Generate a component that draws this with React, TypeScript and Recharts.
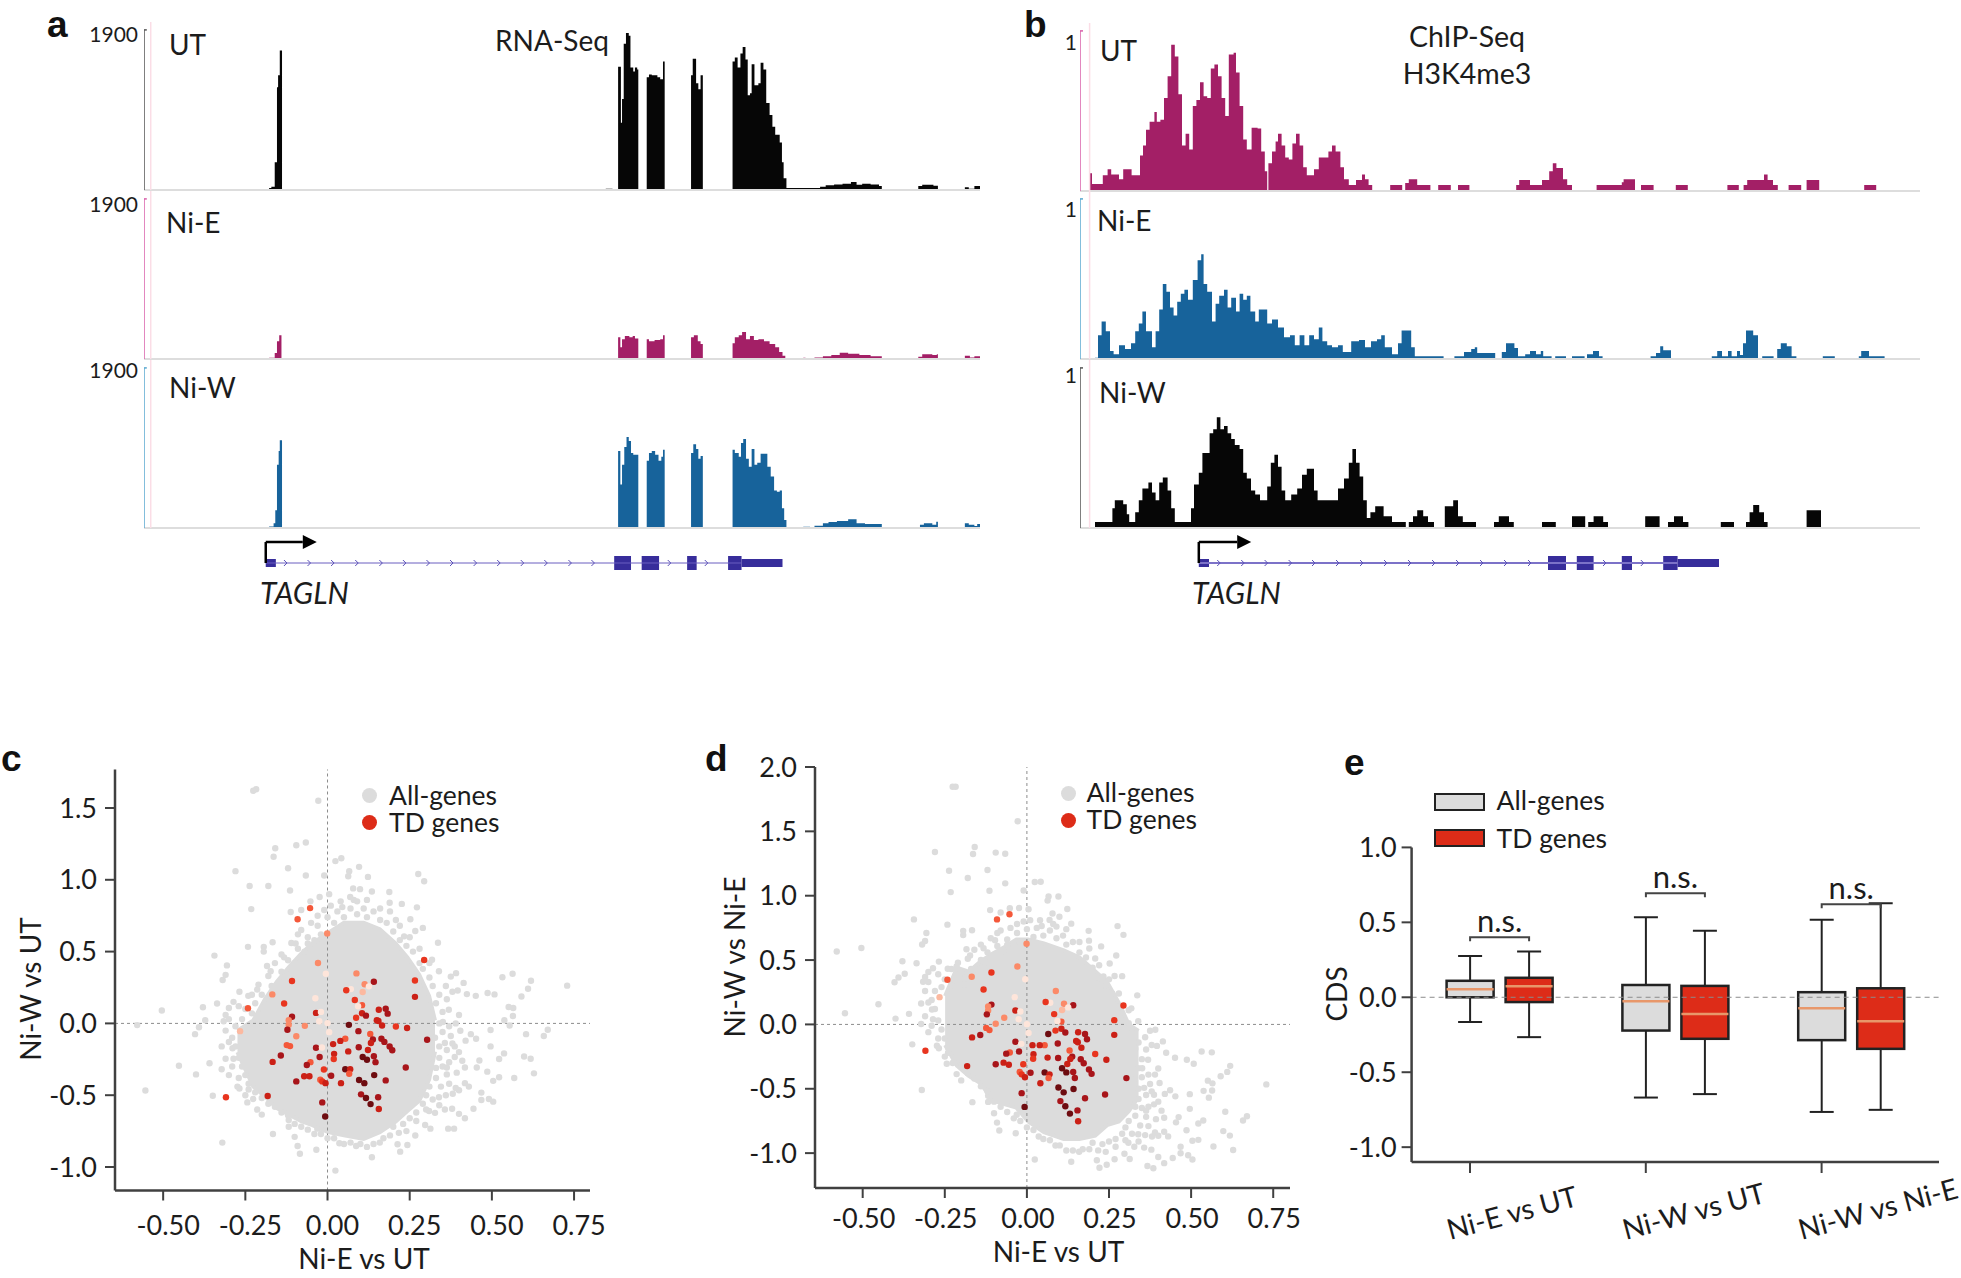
import React from "react";
import {
  AreaChart, Area, ComposedChart, ScatterChart, Scatter, Bar, XAxis, YAxis,
  ReferenceLine, ReferenceArea,
} from "recharts";

type P = [number, number];

// panel a: RNA-Seq signal, [genome bin, height]
const rnaUT: P[] = [[248,5],[252,8],[258,70],[262,260],[264,290],[267,353],[271,0],[848,3],[860,0],[870,312],[875,170],[877,230],[880,370],[884,397],[889,390],[892,310],[897,300],[900,310],[904,305],[906,0],[921,285],[925,292],[930,290],[940,285],[945,280],[950,325],[953,0],[1000,290],[1003,332],[1009,270],[1013,255],[1017,290],[1021,0],[1074,325],[1078,335],[1083,310],[1088,345],[1092,362],[1097,330],[1101,240],[1105,245],[1108,318],[1113,265],[1120,270],[1124,322],[1129,305],[1134,220],[1140,190],[1145,160],[1150,140],[1158,120],[1162,70],[1165,30],[1170,5],[1230,8],[1240,12],[1255,14],[1270,16],[1285,20],[1295,13],[1305,16],[1320,14],[1335,10],[1340,0],[1405,10],[1412,13],[1432,11],[1440,0],[1488,7],[1495,3],[1505,10],[1515,0]];
const rnaNiE: P[] = [[248,3],[258,15],[262,45],[266,60],[270,0],[870,55],[874,30],[877,50],[882,58],[890,55],[896,58],[900,52],[906,0],[921,50],[925,45],[935,48],[945,50],[950,60],[953,0],[1000,55],[1005,60],[1012,45],[1017,38],[1021,0],[1074,40],[1078,55],[1085,60],[1091,68],[1098,50],[1105,58],[1112,48],[1120,50],[1130,45],[1140,38],[1150,30],[1157,18],[1163,8],[1168,0],[1200,3],[1204,0],[1220,4],[1235,7],[1250,10],[1265,16],[1280,13],[1300,10],[1320,7],[1340,0],[1405,6],[1412,12],[1430,10],[1438,12],[1440,0],[1488,8],[1497,4],[1505,7],[1515,0]];
const rnaNiW: P[] = [[248,4],[256,12],[259,45],[262,160],[265,195],[267,222],[271,0],[870,195],[874,110],[877,160],[881,205],[885,230],[889,220],[893,190],[897,185],[903,185],[906,0],[921,170],[925,190],[930,195],[936,185],[942,170],[947,180],[950,198],[953,0],[1000,190],[1004,212],[1009,200],[1013,175],[1017,182],[1021,0],[1074,198],[1078,190],[1085,180],[1089,215],[1093,225],[1098,175],[1103,155],[1108,200],[1113,160],[1118,165],[1124,188],[1130,188],[1136,155],[1142,130],[1148,95],[1153,92],[1158,95],[1162,50],[1166,20],[1170,0],[1200,3],[1212,0],[1220,6],[1235,12],[1245,15],[1260,18],[1280,22],[1295,12],[1310,10],[1340,0],[1408,8],[1415,12],[1430,8],[1437,16],[1440,0],[1488,12],[1495,8],[1505,5],[1510,10],[1515,0]];

// panel b: ChIP-Seq signal
const chipUT: P[] = [[116,45],[120,18],[138,40],[146,55],[152,42],[165,30],[172,55],[186,40],[200,90],[205,115],[210,155],[216,175],[224,200],[228,175],[234,180],[240,235],[246,290],[252,370],[258,340],[264,245],[270,115],[276,145],[282,105],[288,215],[294,230],[300,275],[306,240],[312,235],[318,310],[324,320],[330,290],[336,235],[342,190],[348,345],[356,350],[360,300],[366,215],[372,130],[378,105],[386,160],[396,158],[402,100],[408,50],[412,0],[414,70],[420,100],[426,125],[430,145],[436,115],[442,85],[448,80],[454,120],[460,145],[466,115],[472,60],[478,40],[490,55],[498,85],[506,85],[514,100],[520,115],[526,100],[534,60],[540,30],[548,15],[560,28],[570,42],[575,30],[581,15],[587,0],[617,15],[637,0],[642,20],[648,30],[662,15],[684,0],[697,15],[718,0],[730,15],[749,0],[827,15],[832,28],[850,15],[870,28],[882,50],[888,70],[894,58],[905,30],[912,15],[920,0],[961,15],[1003,22],[1006,30],[1025,0],[1035,15],[1056,0],[1093,15],[1113,0],[1179,15],[1198,0],[1206,15],[1212,28],[1232,28],[1240,42],[1246,28],[1255,15],[1263,0],[1281,15],[1302,0],[1311,28],[1332,0],[1407,15],[1427,0]];
const chipNiE: P[] = [[125,3],[130,60],[136,95],[143,70],[150,20],[156,12],[165,35],[175,25],[185,40],[192,70],[198,90],[204,120],[210,70],[220,30],[226,70],[232,125],[238,190],[244,170],[250,130],[256,110],[262,145],[268,165],[274,175],[280,150],[288,200],[296,250],[302,265],[306,190],[312,170],[320,95],[326,140],[332,160],[340,175],[346,130],[352,155],[360,120],[366,165],[372,150],[378,160],[384,120],[392,95],[398,125],[406,125],[412,90],[420,100],[430,80],[440,55],[450,60],[458,35],[466,60],[474,35],[482,60],[490,50],[498,80],[504,45],[512,35],[520,30],[530,35],[538,18],[552,45],[565,48],[575,30],[585,45],[595,50],[602,60],[608,30],[620,12],[630,40],[636,72],[648,72],[652,30],[658,7],[706,0],[724,7],[740,18],[752,25],[758,30],[762,15],[792,0],[803,18],[810,40],[824,28],[830,7],[842,12],[850,20],[860,12],[868,20],[872,7],[886,0],[892,7],[910,0],[920,7],[941,0],[945,12],[955,20],[965,7],[971,0],[1051,7],[1060,15],[1067,32],[1072,22],[1085,0],[1153,7],[1162,20],[1170,7],[1180,20],[1186,7],[1195,20],[1200,10],[1205,40],[1210,72],[1222,60],[1230,0],[1237,7],[1256,0],[1262,25],[1268,40],[1278,32],[1286,7],[1294,0],[1338,7],[1358,0],[1398,7],[1402,20],[1415,7],[1441,0]];
const chipNiW: P[] = [[125,15],[154,50],[158,70],[172,60],[178,35],[182,15],[192,40],[198,70],[204,100],[214,115],[220,90],[226,70],[232,115],[238,128],[246,95],[252,50],[258,15],[285,50],[290,110],[298,140],[304,190],[316,240],[322,250],[328,280],[334,250],[340,258],[346,240],[352,225],[358,210],[366,200],[372,140],[378,125],[385,95],[392,85],[400,70],[412,105],[418,165],[424,185],[430,155],[436,95],[442,70],[452,85],[462,100],[470,135],[478,150],[484,150],[490,95],[496,70],[524,70],[530,100],[540,125],[548,165],[554,200],[560,165],[566,130],[572,70],[578,25],[584,40],[592,55],[606,30],[620,15],[643,0],[648,15],[655,30],[662,45],[672,30],[680,15],[690,0],[708,55],[722,70],[730,30],[738,15],[760,0],[790,15],[798,30],[815,15],[823,0],[870,15],[893,0],[920,30],[942,0],[947,15],[956,30],[972,15],[980,0],[1042,30],[1066,0],[1080,15],[1090,30],[1105,15],[1114,0],[1168,15],[1190,0],[1210,15],[1216,40],[1222,58],[1232,40],[1240,15],[1246,0],[1311,45],[1335,0]];

// gene models, [start, end]
const geneAExons: P[] = [[863,893],[912,943],[993,1010],[1066,1090]];
const geneAPromoter: P = [242,260];
const geneAUtr: P = [1090,1163];
const geneAChevrons = [278,320,362,405,448,490,532,574,616,658,700,742,785,826,962,1028];
const geneBExons: P[] = [[880,910],[928,956],[1003,1020],[1072,1096]];
const geneBPromoter: P = [298,315];
const geneBUtr: P = [1096,1165];
const geneBChevrons = [332,372,411,451,490,530,570,610,650,690,730,770,810,850,975,1038];

// panels c and d: all genes. Same x in both panels.
const allX = [-0.217,-0.226,-0.028,-0.066,-0.095,-0.159,-0.164,-0.28,-0.12,-0.066,-0.01,0.024,0.042,0.096,0.066,0.063,0.123,0.276,0.294,-0.237,-0.18,-0.114,-0.232,0.078,0.099,0.135,0.188,0.005,-0.024,0.069,0.09,0.189,0.226,0.272,-0.052,-0.08,-0.112,-0.01,0.045,0.208,0.252,0.29,0.267,0.233,-0.08,-0.167,-0.242,-0.194,-0.194,-0.097,-0.06,0.336,0.318,-0.344,-0.306,-0.31,-0.319,-0.184,-0.173,-0.132,-0.268,-0.241,-0.214,-0.286,-0.3,-0.336,-0.379,-0.504,-0.372,-0.391,-0.403,-0.579,-0.316,-0.31,-0.452,-0.4,-0.554,-0.359,-0.322,-0.349,-0.274,-0.268,-0.322,-0.289,-0.31,-0.286,-0.32,-0.244,-0.226,-0.214,-0.2,-0.166,-0.118,-0.118,-0.1,-0.091,-0.084,-0.034,-0.031,0.024,0.036,0.087,0.135,0.159,0.213,0.221,0.243,0.267,0.217,0.297,0.313,0.367,0.385,0.418,0.4,0.379,0.357,0.327,0.309,0.444,0.468,0.468,0.504,0.491,0.504,0.522,0.568,0.628,0.618,0.598,0.522,0.537,0.462,0.454,0.486,0.496,0.496,0.452,0.436,0.404,0.375,0.604,0.658,0.67,0.554,0.538,0.564,0.565,0.551,0.729,0.619,0.61,0.59,0.563,0.532,0.508,0.487,0.451,0.424,0.414,0.391,0.375,0.339,0.396,0.4,0.369,0.363,0.351,0.327,0.363,0.387,0.357,0.387,0.363,0.393,0.418,0.363,0.4,0.418,0.381,0.345,0.339,0.43];
const allYC = [1.63,1.62,1.55,1.26,1.24,1.22,1.16,1.06,1.08,1.03,1.03,1.13,1.15,1.09,1.06,1.025,1.02,1.04,0.99,0.957,0.957,0.925,0.796,0.94,0.935,0.918,0.915,0.9,0.88,0.88,0.85,0.84,0.832,0.808,0.85,0.79,0.776,0.79,0.81,0.72,0.725,0.665,0.643,0.606,0.65,0.565,0.533,0.533,0.5,0.557,0.557,0.562,0.443,0.472,0.404,0.338,0.302,0.4,0.363,0.46,0.22,0.192,0.236,0.15,0.107,0.139,0.112,0.09,0.022,-0.027,-0.075,-0.012,0.015,0.058,-0.295,-0.355,-0.467,-0.277,-0.319,-0.504,-0.44,-0.453,-0.16,-0.173,-0.246,-0.246,-0.83,-0.55,-0.526,-0.6,-0.635,-0.77,-0.672,-0.72,-0.79,-0.854,-0.908,-0.88,-0.733,-1.025,-0.835,-0.854,-0.932,-0.83,-0.842,-0.893,-0.847,-0.781,-0.762,-0.708,-0.733,-0.733,-0.733,-0.66,-0.63,-0.594,-0.6,-0.623,-0.61,-0.594,-0.533,-0.482,-0.545,-0.526,-0.4,-0.375,-0.38,-0.348,-0.246,-0.231,-0.248,-0.209,-0.258,-0.307,-0.336,-0.16,-0.046,-0.107,-0.075,-0.051,-0.088,-0.075,-0.088,-0.044,-0.015,0.022,0.051,0.107,0.114,0.263,0.297,0.241,0.187,0.346,0.321,0.202,0.212,0.192,0.204,0.282,0.35,0.326,0.363,0.229,0.058,0.095,0.168,0.01,-0.1,-0.185,-0.16,-0.136,-0.234,-0.307,-0.343,-0.307,-0.355,-0.465,-0.416,-0.49,-0.44,-0.514,-0.44];
const allYD = [1.847,1.846,1.578,1.326,1.335,1.379,1.324,1.34,1.2,1.096,1.04,1.106,1.108,0.994,0.994,0.962,0.897,0.764,0.696,1.194,1.137,1.039,1.028,0.862,0.836,0.783,0.727,0.895,0.904,0.811,0.76,0.651,0.606,0.536,0.902,0.87,0.888,0.8,0.765,0.512,0.473,0.375,0.376,0.373,0.73,0.732,0.775,0.727,0.694,0.654,0.617,0.226,0.125,0.816,0.71,0.648,0.621,0.584,0.536,0.592,0.488,0.433,0.45,0.436,0.407,0.475,0.491,0.594,0.394,0.364,0.328,0.567,0.331,0.368,0.157,0.045,0.087,0.082,0.003,-0.155,-0.166,-0.185,0.162,0.116,0.064,0.04,-0.51,-0.306,-0.3,-0.386,-0.435,-0.604,-0.554,-0.602,-0.69,-0.763,-0.824,-0.846,-0.702,-1.049,-0.871,-0.941,-1.067,-0.989,-1.055,-1.114,-1.09,-1.048,-0.979,-1.005,-1.046,-1.1,-1.118,-1.078,-1.03,-0.973,-0.957,-0.95,-0.919,-1.038,-1.001,-0.95,-1.049,-1.017,-0.904,-0.897,-0.948,-0.976,-0.864,-0.829,-0.77,-0.746,-0.72,-0.761,-0.822,-0.656,-0.542,-0.559,-0.511,-0.455,-0.463,-0.679,-0.746,-0.714,-0.569,-0.516,-0.513,-0.458,-0.437,-0.466,-0.322,-0.369,-0.403,-0.217,-0.211,-0.306,-0.275,-0.259,-0.22,-0.132,-0.041,-0.049,0.024,-0.167,-0.342,-0.274,-0.195,-0.341,-0.427,-0.548,-0.547,-0.493,-0.621,-0.67,-0.736,-0.725,-0.718,-0.865,-0.834,-0.871,-0.785,-0.853,-0.87];

// genes round the rim of the solid mass
const edgeX = [-0.29,-0.28,-0.27,-0.26,-0.25,-0.24,-0.28,-0.26,-0.25,-0.23,-0.22,-0.2,-0.19,-0.17,-0.16,-0.14,-0.13,-0.12,-0.1,-0.09,-0.07,-0.06,-0.04,-0.03,-0.02,0,0.02,0.03,0.05,0.07,0.09,0.11,0.12,0.14,0.16,0.18,0.2,0.22,0.24,0.26,0.28,0.29,0.31,0.32,0.34,0.33,0.35,0.36,0.38,0.34,0.35,0.34,0.34,0.33,0.33,0.31,0.3,0.29,0.27,0.25,0.23,0.19,0.17,0.14,0.12,0.1,0.07,0.05,0.02,0,-0.02,-0.04,-0.06,-0.08,-0.1,-0.12,-0.14,-0.16,-0.18,-0.2,-0.22,-0.24,0.37,0.39,0.38,0.4,0.42,0.41,0.37,0.35,0.37,0.39,0.36,0.32,0.34,0.3,0.27,0.24,0.2,-0.31,-0.3,-0.29,-0.3,-0.27,-0.25,-0.3,-0.27,-0.23,-0.21,-0.18,-0.16,-0.14,-0.11,-0.09,-0.05,-0.03,0.01,0.04,0.08,0.12,0.16,0.19,0.22,0.25,0.28,0.31];
const edgeYC = [-0.1,-0.16,-0.24,-0.3,-0.36,-0.42,-0.02,0.03,0.1,0.07,0.14,0.2,0.12,0.26,0.22,0.36,0.31,0.44,0.42,0.52,0.5,0.6,0.58,0.68,0.62,0.74,0.7,0.78,0.74,0.8,0.76,0.8,0.74,0.78,0.72,0.7,0.64,0.58,0.54,0.5,0.42,0.38,0.32,0.26,0.2,0.14,0.08,0.26,0.22,0,-0.06,-0.16,-0.24,-0.31,-0.38,-0.44,-0.5,-0.56,-0.62,-0.66,-0.7,-0.78,-0.8,-0.84,-0.86,-0.84,-0.83,-0.84,-0.8,-0.8,-0.77,-0.77,-0.74,-0.72,-0.7,-0.64,-0.62,-0.58,-0.56,-0.52,-0.48,-0.46,-0.02,0,-0.14,-0.2,-0.12,-0.26,-0.27,-0.3,-0.42,-0.45,-0.5,-0.53,-0.57,-0.6,-0.68,-0.75,-0.72,-0.05,-0.13,-0.3,-0.36,-0.38,-0.5,0.03,0.12,0.2,0.27,0.33,0.42,0.48,0.56,0.62,0.7,0.75,0.82,0.85,0.86,0.86,0.8,0.78,0.68,0.6,0.52,0.42];
const edgeYD = [0.19,0.12,0.03,-0.04,-0.11,-0.18,0.26,0.29,0.35,0.3,0.36,0.4,0.31,0.43,0.38,0.5,0.44,0.56,0.52,0.61,0.57,0.66,0.62,0.71,0.64,0.74,0.68,0.75,0.69,0.73,0.67,0.69,0.62,0.64,0.56,0.52,0.44,0.36,0.3,0.24,0.14,0.09,0.01,-0.06,-0.14,-0.19,-0.27,-0.1,-0.16,-0.34,-0.41,-0.5,-0.58,-0.64,-0.71,-0.75,-0.8,-0.85,-0.89,-0.91,-0.93,-0.97,-0.97,-0.98,-0.98,-0.94,-0.9,-0.89,-0.82,-0.8,-0.75,-0.73,-0.68,-0.64,-0.6,-0.52,-0.48,-0.42,-0.38,-0.32,-0.26,-0.22,-0.39,-0.39,-0.52,-0.6,-0.54,-0.67,-0.64,-0.65,-0.79,-0.84,-0.86,-0.85,-0.91,-0.9,-0.95,-0.99,-0.92,0.26,0.17,-0.01,-0.06,-0.11,-0.25,0.33,0.39,0.43,0.48,0.51,0.58,0.62,0.67,0.71,0.75,0.78,0.81,0.81,0.78,0.74,0.64,0.59,0.46,0.35,0.24,0.11];

// the solid mass of genes in the middle of c and d, as low/high per x
const coreCX = [-0.274,-0.226,-0.19,-0.154,-0.118,-0.08,-0.046,0.002,0.05,0.11,0.159,0.207,0.243,0.279,0.309,0.327];
const coreCLow = [-0.2,-0.44,-0.51,-0.59,-0.635,-0.68,-0.708,-0.757,-0.78,-0.805,-0.757,-0.684,-0.61,-0.538,-0.392,-0.197];
const coreCHigh = [-0.05,0.02,0.17,0.29,0.39,0.485,0.557,0.63,0.7,0.7,0.655,0.557,0.46,0.338,0.192,0.02];
const coreDX = [-0.249,-0.213,-0.177,-0.141,-0.105,-0.069,-0.032,0.004,0.052,0.112,0.16,0.208,0.244,0.28,0.31,0.34];
const coreDLow = [-0.16,-0.32,-0.4,-0.457,-0.59,-0.62,-0.647,-0.755,-0.837,-0.89,-0.89,-0.864,-0.783,-0.755,-0.674,-0.565];
const coreDHigh = [0.22,0.44,0.41,0.49,0.55,0.6,0.66,0.66,0.63,0.576,0.52,0.413,0.33,0.168,0,-0.05];

// TD genes. tone runs from 0 (darkest) to 7 (palest)
const tdX = [-0.053,-0.091,-0.001,-0.029,0.294,0.088,-0.005,-0.108,0.113,0.141,0.266,0.071,0.057,0.107,0.126,-0.168,0.266,-0.132,-0.037,0.083,0.105,-0.242,-0.108,-0.035,-0.02,0.093,0.156,0.183,0.177,0.105,0.117,0.087,-0.025,0.15,0.155,-0.118,0.065,0.166,0.208,0.242,-0.118,-0.069,-0.122,0,0.094,-0.266,0.005,0.13,0.303,-0.095,0.054,0.138,0.164,0.173,0.039,0.017,0.132,-0.124,-0.114,-0.035,-0.017,0.095,0.189,0.197,0.063,0.123,0.02,-0.142,-0.024,0.019,0.107,0.12,0.141,0.146,-0.167,-0.052,-0.063,0.238,0.054,0.069,-0.011,0.066,-0.071,-0.055,0.142,0.011,-0.095,-0.022,-0.016,-0.006,0.096,0.112,0.177,0.041,0.102,0.117,0.154,-0.182,-0.309,-0.016,0.131,0.156,-0.007];
const tdYC = [0.803,0.725,0.626,0.421,0.441,0.348,0.346,0.295,0.273,0.29,0.299,0.239,0.231,0.219,0.258,0.202,0.185,0.139,0.175,0.163,0.127,0.105,0.046,0.073,0.08,0.119,0.095,0.068,0.102,0.071,0.054,0.039,0.015,0.022,0.017,0.022,-0.01,-0.015,-0.022,-0.032,-0.01,-0.017,-0.044,0.002,-0.054,-0.054,-0.061,-0.073,-0.114,-0.09,-0.107,-0.112,-0.107,-0.129,-0.122,-0.144,-0.136,-0.151,-0.158,-0.17,-0.168,-0.166,-0.161,-0.187,-0.195,-0.185,-0.212,-0.224,-0.234,-0.248,-0.234,-0.253,-0.229,-0.27,-0.268,-0.27,-0.29,-0.307,-0.319,-0.319,-0.321,-0.351,-0.368,-0.368,-0.36,-0.365,-0.404,-0.392,-0.404,-0.416,-0.394,-0.416,-0.397,-0.416,-0.494,-0.519,-0.514,-0.506,-0.514,-0.55,-0.562,-0.596,-0.648];
const tdYD = [0.856,0.816,0.627,0.45,0.147,0.26,0.351,0.403,0.16,0.149,0.033,0.168,0.174,0.112,0.132,0.37,-0.081,0.271,0.212,0.08,0.022,0.347,0.154,0.108,0.1,0.026,-0.061,-0.115,-0.075,-0.034,-0.063,-0.048,0.04,-0.128,-0.138,0.14,-0.075,-0.181,-0.23,-0.274,0.108,0.052,0.078,0.002,-0.148,0.212,-0.066,-0.203,-0.417,0.005,-0.161,-0.25,-0.271,-0.302,-0.161,-0.161,-0.268,-0.027,-0.044,-0.135,-0.151,-0.261,-0.35,-0.384,-0.258,-0.308,-0.232,-0.082,-0.21,-0.267,-0.341,-0.373,-0.37,-0.416,-0.101,-0.218,-0.227,-0.545,-0.373,-0.388,-0.31,-0.417,-0.297,-0.313,-0.502,-0.376,-0.309,-0.37,-0.388,-0.41,-0.49,-0.528,-0.574,-0.457,-0.596,-0.636,-0.668,-0.324,-0.205,-0.534,-0.693,-0.752,-0.641];
const tdTone = [4,4,5,5,3,5,7,3,5,1,3,7,3,6,7,5,2,3,7,3,4,4,1,2,7,7,2,1,1,2,1,3,7,2,2,5,0,2,3,2,5,5,1,7,1,6,7,4,1,5,4,1,1,1,2,2,2,4,4,1,7,1,1,1,2,2,2,1,1,3,0,0,1,1,2,4,1,1,0,2,3,4,2,2,0,1,1,4,3,2,0,0,1,2,1,0,1,2,3,1,0,2,0];
const tdPalette = ["#6e0c10", "#a8151a", "#cb2016", "#e8351f", "#f4583a", "#fb8a68", "#fcb9a0", "#fee5da"];

const xTicksScatter = [-0.5, -0.25, 0, 0.25, 0.5, 0.75];
const yTicksC = [-1, -0.5, 0, 0.5, 1, 1.5];
const yTicksD = [-1, -0.5, 0, 0.5, 1, 1.5, 2];

// panel e
const boxCategories = ["Ni-E vs UT", "Ni-W vs UT", "Ni-W vs Ni-E"];
const allLow = [-0.165, -0.669, -0.765];
const allQ1 = [0, -0.222, -0.286];
const allMedian = [0.053, -0.027, -0.073];
const allQ3 = [0.11, 0.082, 0.034];
const allHigh = [0.275, 0.534, 0.518];
const tdLow = [-0.266, -0.646, -0.751];
const tdQ1 = [-0.032, -0.277, -0.344];
const tdMedian = [0.073, -0.112, -0.16];
const tdQ3 = [0.13, 0.076, 0.06];
const tdHigh = [0.305, 0.444, 0.628];
const bracketLevel = [0.4, 0.694, 0.62];
const yTicksE = [-1, -0.5, 0, 0.5, 1];

const FONT = "Lato";
const INK = "#1c1c1c";
const GREY = "#dcdcdc";
const RED = "#dd2c18";

function Txt({ x, y, size = 26.5, align = "left", rotate = 0, style, children }: any) {
  const tx = align === "left" ? "0" : align === "center" ? "-50%" : "-100%";
  return (
    <div
      style={{
        position: "absolute", left: x, top: y, fontFamily: FONT, fontSize: size, color: INK,
        whiteSpace: "nowrap", lineHeight: 1, transform: `translate(${tx},-50%) rotate(${rotate}deg)`,
        ...style,
      }}
    >
      {children}
    </div>
  );
}

function Letter({ x, y, children }: any) {
  return <Txt x={x} y={y} size={37} style={{ fontFamily: "Liberation Sans", fontWeight: 700, color: "#111" }}>{children}</Txt>;
}

function Track({ data, color, axisColor, left, baseline, width, domain, axisX, paleX }: any) {
  const rows = data.map((d: P) => ({ pos: d[0], value: d[1] }));
  return (
    <div style={{ position: "absolute", left, top: baseline - 168 }}>
      <AreaChart width={width} height={170} data={rows} margin={{ top: 0, right: 0, bottom: 2, left: 0 }}>
        <XAxis dataKey="pos" type="number" domain={domain} hide />
        <YAxis type="number" domain={[0, 425]} hide />
        <ReferenceLine y={0} stroke="#dddddd" strokeWidth={2} />
        <ReferenceLine x={paleX} stroke="#fbdde6" strokeWidth={1.5} />
        <ReferenceLine segment={[{ x: axisX, y: 0 }, { x: axisX, y: 405 }]} stroke={axisColor} strokeWidth={1.5} />
        <ReferenceLine segment={[{ x: axisX, y: 405 }, { x: axisX + 5, y: 405 }]} stroke={axisColor} strokeWidth={1.5} />
        <Area dataKey="value" type="stepAfter" stroke="none" fill={color} fillOpacity={1} dot={false} activeDot={false} isAnimationActive={false} />
      </AreaChart>
    </div>
  );
}

function Chevron(p: any) {
  return <path d={`M${p.cx - 2} ${p.cy - 3}L${p.cx + 1} ${p.cy}L${p.cx - 2} ${p.cy + 3}`} fill="none" stroke="#5a50b8" strokeWidth={1} />;
}

function ArrowHead(p: any) {
  return <path d={`M${p.cx} ${p.cy - 7}L${p.cx + 14} ${p.cy}L${p.cx} ${p.cy + 7}Z`} fill="#000" />;
}

function Gene({ left, width, domain, promoter, exons, utr, chevrons, headAt, lineColor, lineWidth }: any) {
  const start = promoter[0];
  return (
    <div style={{ position: "absolute", left, top: 535 }}>
      <ScatterChart width={width} height={40} margin={{ top: 0, right: 0, bottom: 0, left: 0 }}>
        <XAxis dataKey="x" type="number" domain={domain} hide />
        <YAxis dataKey="y" type="number" domain={[0, 40]} hide />
        <ReferenceLine segment={[{ x: start, y: 12 }, { x: utr[0], y: 12 }]} stroke={lineColor} strokeWidth={lineWidth} />
        <ReferenceArea x1={promoter[0]} x2={promoter[1]} y1={8} y2={16} fill="#372d9b" fillOpacity={1} stroke="none" />
        {exons.map((e: P) => (
          <ReferenceArea key={e[0]} x1={e[0]} x2={e[1]} y1={5} y2={19} fill="#372d9b" fillOpacity={1} stroke="none" />
        ))}
        <ReferenceArea x1={utr[0]} x2={utr[1]} y1={8} y2={16} fill="#372d9b" fillOpacity={1} stroke="none" />
        <ReferenceLine segment={[{ x: start, y: 12 }, { x: start, y: 33 }]} stroke="#000" strokeWidth={2.5} />
        <ReferenceLine segment={[{ x: start, y: 33 }, { x: headAt, y: 33 }]} stroke="#000" strokeWidth={2.5} />
        <Scatter data={chevrons.map((x: number) => ({ x, y: 12 }))} shape={Chevron} isAnimationActive={false} />
        <Scatter data={[{ x: headAt, y: 33 }]} shape={ArrowHead} isAnimationActive={false} />
      </ScatterChart>
    </div>
  );
}

function GreyDot(p: any) {
  return <circle cx={p.cx} cy={p.cy} r={3.2} fill={GREY} />;
}

function ToneDot(p: any) {
  return <circle cx={p.cx} cy={p.cy} r={3.2} fill={tdPalette[p.payload ? p.payload.tone : p.tone]} />;
}

function GenePlot({ left, top, marginTop, marginBottom, xDomain, yDomain, yTicks, coreX, coreLow, coreHigh, allY, edgeY, tdY, tickDx, tickGap }: any) {
  const core = coreX.map((x: number, i: number) => ({ x, band: [coreLow[i], coreHigh[i]] }));
  const greys = allX.map((x, i) => ({ x, y: allY[i] })).concat(edgeX.map((x, i) => ({ x, y: edgeY[i] })));
  const reds = tdX.map((x, i) => ({ x, y: tdY[i], tone: tdTone[i] }));
  return (
    <div style={{ position: "absolute", left, top }}>
      <ComposedChart width={620} height={520} data={core} margin={{ top: marginTop, right: 30, bottom: marginBottom, left: 15 }}>
        <XAxis
          dataKey="x" type="number" domain={xDomain} ticks={xTicksScatter} allowDataOverflow
          tickFormatter={(v: number) => v.toFixed(2)} height={60} tickSize={10} tickMargin={tickGap}
          tick={{ fontFamily: FONT, fontSize: 27, fill: INK, dx: tickDx }}
          axisLine={{ stroke: "#404040", strokeWidth: 2.5 }} tickLine={{ stroke: "#404040", strokeWidth: 2 }}
        />
        <YAxis
          dataKey="y" type="number" domain={yDomain} ticks={yTicks} allowDataOverflow
          tickFormatter={(v: number) => v.toFixed(1)} width={100} tickSize={10} tickMargin={8}
          tick={{ fontFamily: FONT, fontSize: 27, fill: INK }}
          axisLine={{ stroke: "#404040", strokeWidth: 2.5 }} tickLine={{ stroke: "#404040", strokeWidth: 2 }}
        />
        <Area dataKey="band" type="linear" stroke={GREY} strokeWidth={4} fill={GREY} fillOpacity={1} dot={false} activeDot={false} isAnimationActive={false} />
        <Scatter data={greys} shape={GreyDot} isAnimationActive={false} />
        <Scatter data={reds} shape={ToneDot} isAnimationActive={false} />
        <ReferenceLine x={0} stroke="#8c8c8c" strokeDasharray="3 3" />
        <ReferenceLine y={0} stroke="#8c8c8c" strokeDasharray="3 3" />
      </ComposedChart>
    </div>
  );
}

function Dot({ x, y, color }: any) {
  return <div style={{ position: "absolute", left: x - 7.5, top: y - 7.5, width: 15, height: 15, borderRadius: "50%", background: color }} />;
}

function Swatch({ x, y, color }: any) {
  return <div style={{ position: "absolute", left: x, top: y, width: 51, height: 18, boxSizing: "border-box", background: color, border: "2.5px solid #222" }} />;
}

// one box with its whiskers, scaled off the low-high bar that recharts hands us
function makeBox(fill: string, stats: string, bracket: boolean) {
  return function BoxShape(p: any) {
    const s = p.payload[stats];
    const top = Math.min(p.y, p.y + p.height);
    const h = Math.abs(p.height);
    const py = (v: number) => top + (h * (s.high - v)) / (s.high - s.low);
    const cx = p.x + p.width / 2;
    return (
      <g>
        <line x1={cx} x2={cx} y1={py(s.high)} y2={py(s.low)} stroke="#222" strokeWidth={2} />
        <line x1={cx - 12} x2={cx + 12} y1={py(s.high)} y2={py(s.high)} stroke="#222" strokeWidth={2} />
        <line x1={cx - 12} x2={cx + 12} y1={py(s.low)} y2={py(s.low)} stroke="#222" strokeWidth={2} />
        <rect x={p.x} y={py(s.q3)} width={p.width} height={py(s.q1) - py(s.q3)} fill={fill} stroke="#222" strokeWidth={2.5} />
        <line x1={p.x} x2={p.x + p.width} y1={py(s.median)} y2={py(s.median)} stroke="#e8976a" strokeWidth={2.5} />
        {bracket && (
          <g>
            <path
              d={`M${cx - 59} ${py(s.bracket) + 4}V${py(s.bracket)}H${cx}V${py(s.bracket) + 4}`}
              fill="none" stroke="#444" strokeWidth={2}
            />
            <text x={cx - 29.5} y={py(s.bracket) - 5} textAnchor="middle" fontFamily={FONT} fontSize={31} fill={INK}>n.s.</text>
          </g>
        )}
      </g>
    );
  };
}

function CategoryTick(p: any) {
  const tx = p.x - 29.5;
  const lx = tx - 20;
  const ly = p.y + 70;
  return (
    <g>
      <line x1={tx} x2={tx} y1={p.y - 8} y2={p.y + 3} stroke="#404040" strokeWidth={2} />
      <text x={lx} y={ly} transform={`rotate(-15 ${lx} ${ly})`} fontFamily={FONT} fontSize={28.5} fill={INK}>{p.payload.value}</text>
    </g>
  );
}

function BoxPanel() {
  const rows = boxCategories.map((name, i) => ({
    name,
    allRange: [allLow[i], allHigh[i]],
    tdRange: [tdLow[i], tdHigh[i]],
    allStats: { low: allLow[i], q1: allQ1[i], median: allMedian[i], q3: allQ3[i], high: allHigh[i] },
    tdStats: { low: tdLow[i], q1: tdQ1[i], median: tdMedian[i], q3: tdQ3[i], high: tdHigh[i], bracket: bracketLevel[i] },
  }));
  return (
    <div style={{ position: "absolute", left: 1320, top: 820 }}>
      <ComposedChart width={641} height={450} data={rows} barSize={47} barGap={12} barCategoryGap={0} margin={{ top: 27.4, right: 22, bottom: 8, left: 1.6 }}>
        <XAxis
          dataKey="name" type="category" height={100} tickLine={false} interval={0} tick={CategoryTick}
          axisLine={{ stroke: "#404040", strokeWidth: 2.5 }}
        />
        <YAxis
          type="number" domain={[-1.099, 1]} ticks={yTicksE} width={90} allowDataOverflow
          tickFormatter={(v: number) => v.toFixed(1)} tickSize={10} tickMargin={5}
          tick={{ fontFamily: FONT, fontSize: 27, fill: INK }}
          axisLine={{ stroke: "#404040", strokeWidth: 2.5 }} tickLine={{ stroke: "#404040", strokeWidth: 2 }}
        />
        <ReferenceLine y={0} stroke="#8c8c8c" strokeDasharray="5 4" />
        <Bar dataKey="allRange" shape={makeBox(GREY, "allStats", false)} isAnimationActive={false} />
        <Bar dataKey="tdRange" shape={makeBox(RED, "tdStats", true)} isAnimationActive={false} />
      </ComposedChart>
    </div>
  );
}

export default function App() {
  const domA = [25, 1515];
  const domB = [100, 1500];
  return (
    <div style={{ position: "absolute", left: 0, top: 0, width: 1961, height: 1278, background: "#fff", overflow: "hidden" }}>
      <Track data={rnaUT} color="#060606" axisColor="#555" left={144} baseline={190} width={836} domain={domA} axisX={25} paleX={37} />
      <Track data={rnaNiE} color="#a31f66" axisColor="#d85faa" left={144} baseline={359} width={836} domain={domA} axisX={25} paleX={37} />
      <Track data={rnaNiW} color="#17639b" axisColor="#5aa9d0" left={144} baseline={528} width={836} domain={domA} axisX={25} paleX={37} />
      <Gene left={144} width={836} domain={domA} promoter={geneAPromoter} exons={geneAExons} utr={geneAUtr} chevrons={geneAChevrons} headAt={308} lineColor="#6a5fc0" lineWidth={1} />

      <Track data={chipUT} color="#a31f66" axisColor="#d85faa" left={1080} baseline={191} width={840} domain={domB} axisX={100} paleX={116} />
      <Track data={chipNiE} color="#17639b" axisColor="#5aa9d0" left={1080} baseline={359} width={840} domain={domB} axisX={100} paleX={116} />
      <Track data={chipNiW} color="#060606" axisColor="#555" left={1080} baseline={528} width={840} domain={domB} axisX={100} paleX={116} />
      <Gene left={1080} width={840} domain={domB} promoter={geneBPromoter} exons={geneBExons} utr={geneBUtr} chevrons={geneBChevrons} headAt={362} lineColor="#7c72c8" lineWidth={2} />

      <Txt x={138} y={33} size={21} align="right">1900</Txt>
      <Txt x={138} y={203} size={21} align="right">1900</Txt>
      <Txt x={138} y={369} size={21} align="right">1900</Txt>
      <Txt x={169} y={44} size={28}>UT</Txt>
      <Txt x={166} y={222} size={28}>Ni-E</Txt>
      <Txt x={169} y={387} size={28}>Ni-W</Txt>
      <Txt x={495} y={40} size={28}>RNA-Seq</Txt>
      <Txt x={260} y={592} size={30} style={{ fontStyle: "italic" }}>TAGLN</Txt>

      <Txt x={1077} y={41} size={21} align="right">1</Txt>
      <Txt x={1077} y={208} size={21} align="right">1</Txt>
      <Txt x={1077} y={374} size={21} align="right">1</Txt>
      <Txt x={1100} y={50} size={28}>UT</Txt>
      <Txt x={1097} y={220} size={28}>Ni-E</Txt>
      <Txt x={1099} y={392} size={28}>Ni-W</Txt>
      <Txt x={1467} y={36} size={28.5} align="center">ChIP-Seq</Txt>
      <Txt x={1467} y={73} size={28.5} align="center">H3K4me3</Txt>
      <Txt x={1192} y={592} size={30} style={{ fontStyle: "italic" }}>TAGLN</Txt>

      <GenePlot left={0} top={740} marginTop={29.5} marginBottom={9.5} xDomain={[-0.6465, 0.7985]} yDomain={[-1.1636, 1.768]} yTicks={yTicksC} coreX={coreCX} coreLow={coreCLow} coreHigh={coreCHigh} allY={allYC} edgeY={edgeYC} tdY={tdYC} tickDx={5} tickGap={15} />
      <Txt x={30} y={989} size={28} align="center" rotate={-90}>Ni-W vs UT</Txt>
      <Txt x={364} y={1258} size={28} align="center">Ni-E vs UT</Txt>
      <Dot x={369.6} y={795} color={GREY} />
      <Dot x={369.6} y={822} color={RED} />
      <Txt x={389} y={795}>All-genes</Txt>
      <Txt x={389} y={822}>TD genes</Txt>

      <GenePlot left={700} top={737} marginTop={30} marginBottom={9} xDomain={[-0.6452, 0.8011]} yDomain={[-1.271, 2]} yTicks={yTicksD} coreX={coreDX} coreLow={coreDLow} coreHigh={coreDHigh} allY={allYD} edgeY={edgeYD} tdY={tdYD} tickDx={1} tickGap={11} />
      <Txt x={733.6} y={957} size={28} align="center" rotate={-90}>Ni-W vs Ni-E</Txt>
      <Txt x={1058.5} y={1251} size={28} align="center">Ni-E vs UT</Txt>
      <Dot x={1068.8} y={793} color={GREY} />
      <Dot x={1068.8} y={820} color={RED} />
      <Txt x={1086.5} y={792}>All-genes</Txt>
      <Txt x={1086.5} y={819}>TD genes</Txt>

      <BoxPanel />
      <Txt x={1335.5} y={994} size={28} align="center" rotate={-90}>CDS</Txt>
      <Swatch x={1433.6} y={793} color={GREY} />
      <Swatch x={1433.6} y={829} color={RED} />
      <Txt x={1496.6} y={800}>All-genes</Txt>
      <Txt x={1496.6} y={838}>TD genes</Txt>

      <Letter x={47} y={24}>a</Letter>
      <Letter x={1024} y={24}>b</Letter>
      <Letter x={1} y={758}>c</Letter>
      <Letter x={705} y={758}>d</Letter>
      <Letter x={1344} y={762}>e</Letter>
    </div>
  );
}
